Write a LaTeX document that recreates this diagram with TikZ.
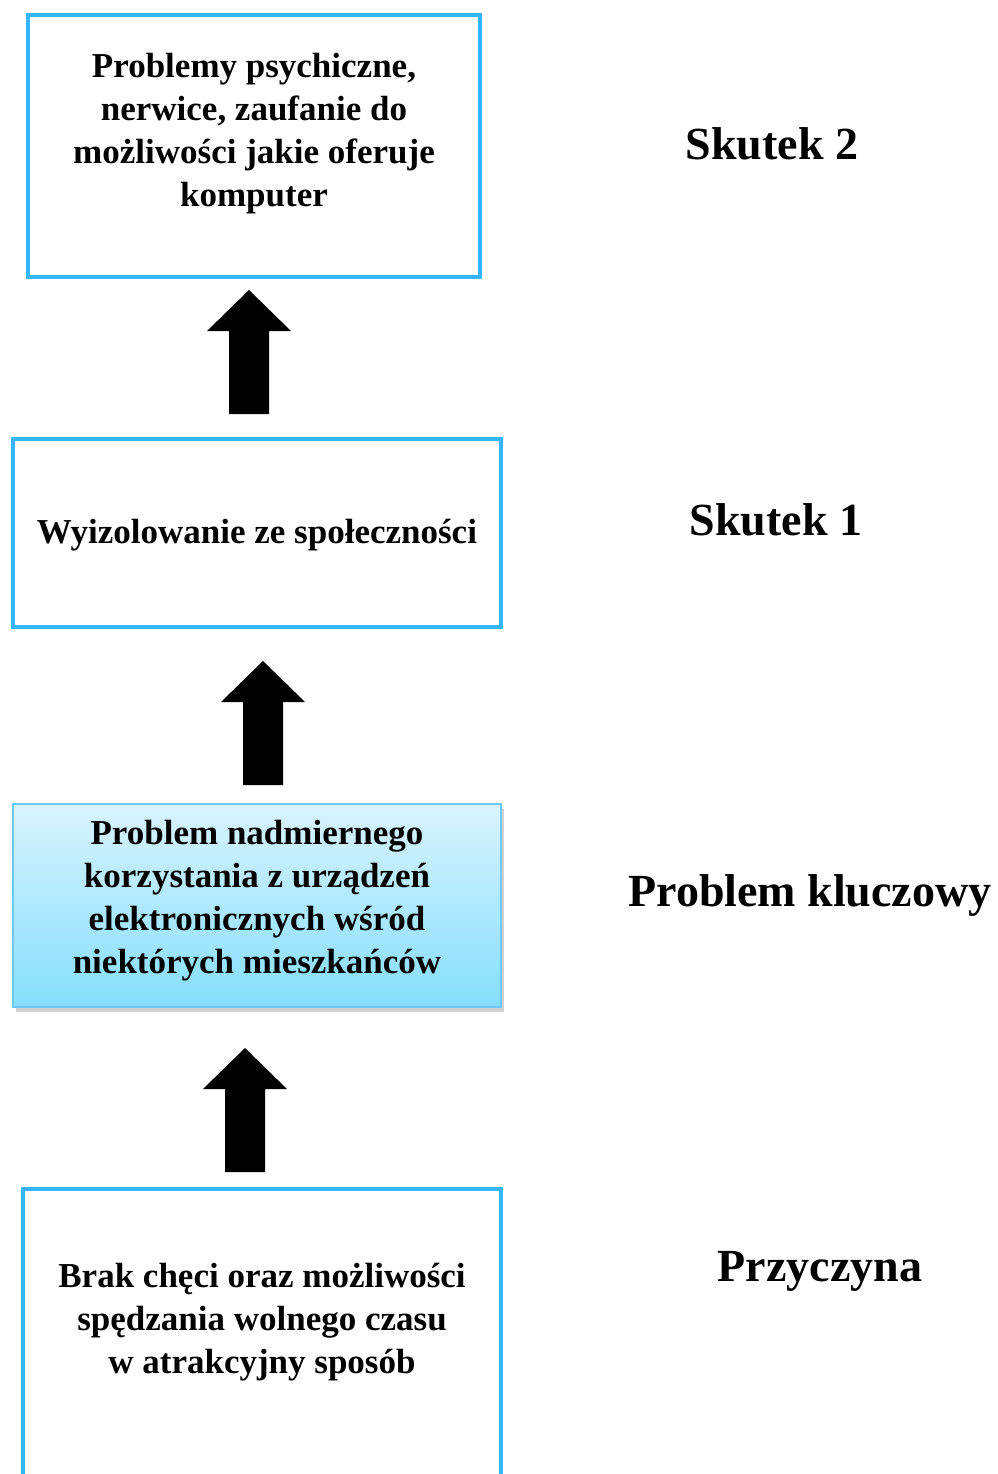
\documentclass[tikz,border=0pt]{standalone}
\usepackage{fontspec}
\setmainfont{Liberation Serif}
\usetikzlibrary{shadows}

\definecolor{ramka}{RGB}{51,181,255}
\definecolor{ramkajasna}{RGB}{110,200,245}
\definecolor{gora}{RGB}{217,243,253}
\definecolor{dol}{RGB}{133,222,251}

\tikzset{
  pole/.style={draw=ramka, line width=4, rectangle, inner sep=0},
  kluczowe/.style={draw=ramkajasna, line width=1.5, rectangle, inner sep=0,
    top color=gora, bottom color=dol,
    drop shadow={shadow xshift=3pt, shadow yshift=-5pt, opacity=0.3, fill=black!60}},
  tekst/.style={font=\bfseries\fontsize{35}{43}\selectfont, align=center},
  etykieta/.style={font=\bfseries\fontsize{46}{54}\selectfont}
}

\begin{document}
\begin{tikzpicture}[x=1pt, y=-1pt]
  \useasboundingbox[fill=white] (0,0) rectangle (997,1474);

  % Skutek 2
  \node[pole, minimum width=452, minimum height=262] (skutek2) at (254,146) {};
  \node[tekst] (skutek2txt) at (254,134) {Problemy psychiczne,\\nerwice, zaufanie do\\możliwości jakie oferuje\\komputer};

  % Skutek 1
  \node[pole, minimum width=488, minimum height=188] (skutek1) at (257,533) {};
  \node[tekst] (skutek1txt) at (257,535) {Wyizolowanie ze społeczności};

  % Problem kluczowy
  \node[kluczowe, minimum width=488, minimum height=203] (problem) at (257,905.5) {};
  \node[tekst] (problemtxt) at (257,901) {Problem nadmiernego\\korzystania z urządzeń\\elektronicznych wśród\\niektórych mieszkańców};

  % Przyczyna (dolna krawedz poza strona)
  \draw[ramka, line width=4] (23,1490) -- (23,1189) -- (501,1189) -- (501,1490);
  \node[tekst] (przyczynatxt) at (262,1322) {Brak chęci oraz możliwości\\spędzania wolnego czasu\\w atrakcyjny sposób};

  % Strzalki
  \foreach \x/\y in {249/290, 263/661, 245/1048}
    \fill[black] (\x,\y) -- (\x+42,\y+41) -- (\x+20,\y+41) -- (\x+20,\y+124)
      -- (\x-20,\y+124) -- (\x-20,\y+41) -- (\x-42,\y+41) -- cycle;

  % Etykiety
  \node[etykieta] (lskutek2) at (772,144) {Skutek 2};
  \node[etykieta] (lskutek1) at (776,520) {Skutek 1};
  \node[etykieta] (lproblem) at (810,895) {Problem kluczowy};
  \node[etykieta] (lprzyczyna) at (820,1271) {Przyczyna};
\end{tikzpicture}
\end{document}
